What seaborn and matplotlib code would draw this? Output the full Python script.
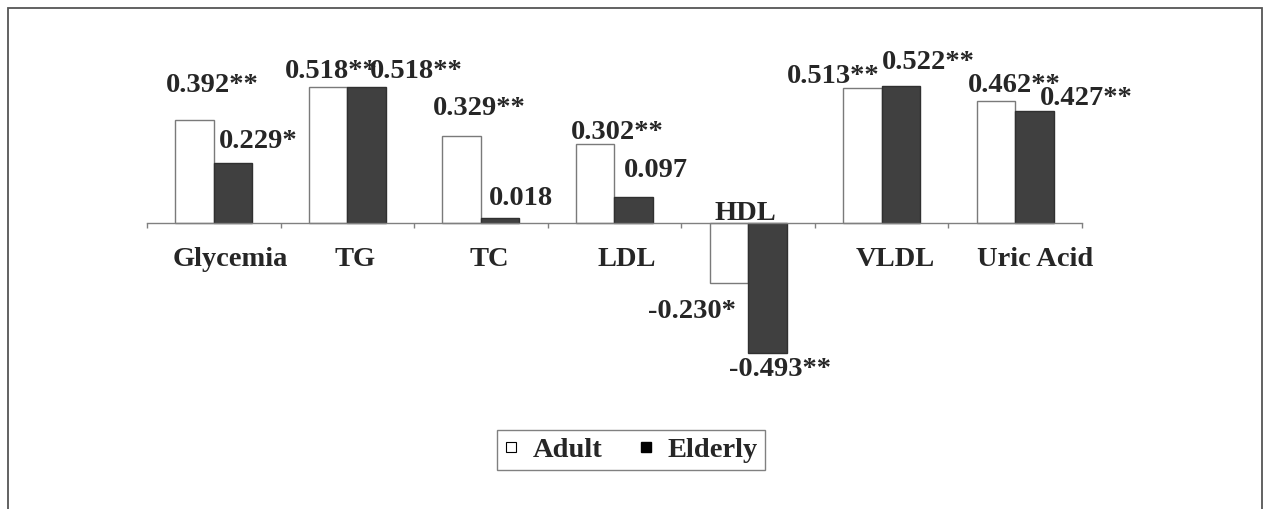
import pandas as pd
import matplotlib
matplotlib.use("Agg")
import matplotlib.pyplot as plt
import seaborn as sns
from matplotlib.lines import Line2D
from matplotlib.patches import Rectangle
from matplotlib.transforms import ScaledTranslation

sns.set_style("white")
plt.rcParams["font.family"] = ["Liberation Serif", "DejaVu Serif"]
plt.rcParams["font.weight"] = "bold"

# === Data: correlation with BMI ===
categories = ["Glycemia", "TG", "TC", "LDL", "HDL", "VLDL", "Uric Acid"]
groups = ["Adult", "Elderly"]
adult = [0.392, 0.518, 0.329, 0.302, -0.230, 0.513, 0.462]
elderly = [0.229, 0.518, 0.018, 0.097, -0.493, 0.522, 0.427]
adult_sig = ["**", "**", "**", "**", "*", "**", "**"]
elderly_sig = ["*", "**", "", "", "**", "**", "**"]

df = pd.DataFrame({
    "Parameter": categories * 2,
    "Group": ["Adult"] * len(adult) + ["Elderly"] * len(elderly),
    "r": adult + elderly,
    "sig": adult_sig + elderly_sig,
})

# label nudges in pixels (dx, dy from bar end) -- layout only
nudge = {
    "Adult": [(18, 28), (3, 9), (18, 21), (22, 5), (-37, -35), (-29, 5), (18, 9)],
    "Elderly": [(25, 15), (50, 9), (21, 13), (22, 20), (13, -23), (27, 17), (52, 6)],
}
cat_dx = [17, 8, 8, 12, -3, 14, 20]

W, H = 1264, 509
fig = plt.figure(figsize=(W / 100, H / 100), dpi=100)
zero_px = 223
ppu = 263  # pixels per unit
ylim = 0.6
ax = fig.add_axes([147 / W, (H - zero_px - ylim * ppu) / H,
                   (1082 - 147) / W, 2 * ylim * ppu / H])

sns.barplot(data=df, x="Parameter", y="r", hue="Group", order=categories,
            hue_order=groups, palette={"Adult": "white", "Elderly": "#404040"},
            width=0.577, legend=False, ax=ax, saturation=1)

ax.set_xlim(-0.5, len(categories) - 0.5)
ax.set_ylim(-ylim, ylim)
ax.set_xlabel("")
ax.set_ylabel("")
ax.set_yticks([])
for s in ["top", "right", "left"]:
    ax.spines[s].set_visible(False)
ax.spines["bottom"].set_position(("data", 0))
ax.spines["bottom"].set_color("#808080")
ax.spines["bottom"].set_linewidth(1.0)

# bars: edges and value labels
bars = sorted(ax.patches, key=lambda p: p.get_x())
for i, cat in enumerate(categories):
    for j, g in enumerate(groups):
        p = bars[2 * i + j]
        row = df[(df["Parameter"] == cat) & (df["Group"] == g)].iloc[0]
        if g == "Adult":
            p.set_edgecolor("#7a7a7a")
        else:
            p.set_edgecolor("#303030")
        p.set_linewidth(1.0)
        dx, dy = nudge[g][i]
        ax.annotate(f"{row['r']:.3f}{row['sig']}",
                    (p.get_x() + p.get_width() / 2, row["r"]),
                    xytext=(dx, dy), textcoords="offset pixels",
                    ha="center", va="baseline", fontsize=20.5,
                    fontweight="bold", annotation_clip=False)

# category ticks at centres, small ticks at boundaries
ax.set_xticks(range(len(categories)), categories)
ax.set_xticks([i - 0.5 for i in range(len(categories) + 1)], minor=True)
ax.tick_params(axis="x", which="major", length=0, pad=17, labelsize=20.5)
ax.tick_params(axis="x", which="minor", length=3.8, width=1.0,
               color="#808080", direction="out", bottom=True)
for i, lbl in enumerate(ax.get_xticklabels()):
    lbl.set_fontweight("bold")
    dy = 0
    if categories[i] == "HDL":
        lbl.set_verticalalignment("baseline")
        dy = 27
    lbl.set_transform(lbl.get_transform() +
                      ScaledTranslation(cat_dx[i] / 100, dy / 100, fig.dpi_scale_trans))

handles = [Line2D([], [], marker="s", linestyle="", markersize=7.5,
                  markerfacecolor="white", markeredgecolor="black",
                  markeredgewidth=0.8, label="Adult"),
           Line2D([], [], marker="s", linestyle="", markersize=7.5,
                  markerfacecolor="black", markeredgecolor="black",
                  label="Elderly")]
leg = fig.legend(handles=handles, loc="center", ncol=2,
                 bbox_to_anchor=(631 / W, 1 - 450 / H), fontsize=20.5,
                 frameon=True, fancybox=False, handlelength=0.5,
                 handletextpad=0.5, columnspacing=1.3, borderpad=0.25)
leg.get_frame().set_edgecolor("#606060")
leg.get_frame().set_linewidth(1.0)

# outer frame
fig.patches.append(Rectangle((8 / W, -0.05), (1262 - 8) / W, 1 - 8 / H + 0.05,
                             transform=fig.transFigure, fill=False,
                             edgecolor="#555555", linewidth=1.3))

fig.savefig("out.png", dpi=100)
